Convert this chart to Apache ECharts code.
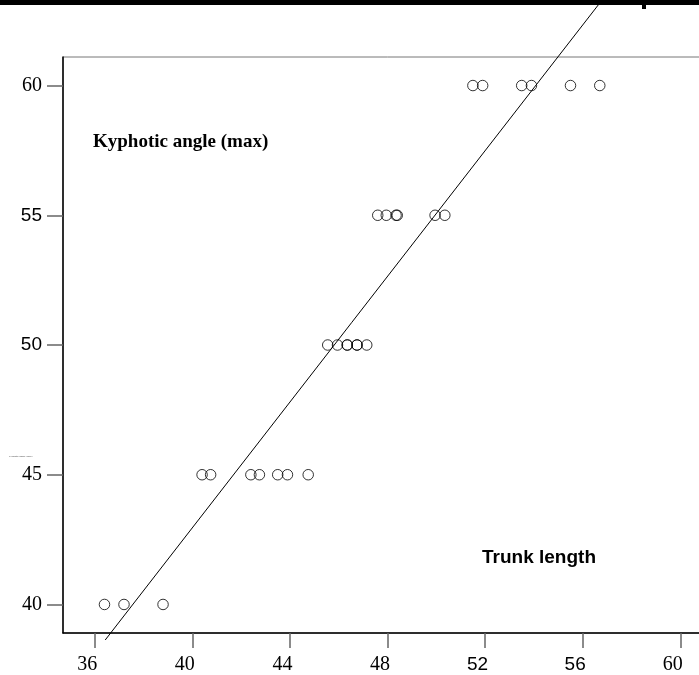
<!DOCTYPE html>
<html>
<head>
<meta charset="utf-8">
<script src="https://cdn.jsdelivr.net/npm/echarts@6/dist/echarts.min.js"></script>
<style>
  html, body { margin: 0; padding: 0; background: #fff; overflow: hidden; }
  /* wider than the window: the plot box runs past the right edge */
  #chart { width: 713px; height: 675px; }
</style>
</head>
<body>
<div id="chart"></div>
<script>
// data
const trunkLength = [
  36.4, 37.2, 38.8,
  40.4, 40.75, 42.4, 42.75, 43.5, 43.9, 44.75,
  45.55, 45.95, 46.35, 46.35, 46.75, 46.75, 47.15,
  47.6, 47.95, 48.35, 48.4, 49.95, 50.35,
  51.5, 51.9, 53.5, 53.9, 55.5, 56.7
]
const kyphoticAngle = [
  40, 40, 40,
  45, 45, 45, 45, 45, 45, 45,
  50, 50, 50, 50, 50, 50, 50,
  55, 55, 55, 55, 55, 55,
  60, 60, 60, 60, 60, 60
]
// fitted line, two end points
const fitX = [36.43, 56.65]
const fitY = [38.63, 63.12]

const xTicks = [36, 40, 44, 48, 52, 56, 60]
const yTicks = [40, 45, 50, 55, 60]

// labels that were printed in a sans face in the original
const sansX = [52, 56]
const sansY = [50, 55]

const chart = echarts.init(document.getElementById('chart'))

const serif = 'Liberation Serif'
const sans = 'Liberation Sans'

function labelFmt(list) {
  return function(v) {
    return list.indexOf(v) >= 0 ? '{s|' + v + '}' : '{r|' + v + '}'
  }
}
const labelRich = {
  r: { fontFamily: serif, fontSize: 20, color: '#000' },
  s: { fontFamily: sans, fontSize: 19, color: '#000' }
}

chart.setOption({
  animation: false,
  grid: {
    left: 63,
    top: 57,
    right: 1,
    bottom: 41,
    show: true,
    borderColor: '#777',
    borderWidth: 1
  },
  xAxis: {
    type: 'value',
    min: 34.7,
    max: 61.3,
    splitLine: { show: false },
    axisLine: { show: true, lineStyle: { color: '#000', width: 1.5 } },
    axisTick: {
      show: true,
      customValues: xTicks,
      length: 15,
      lineStyle: { color: '#666', width: 1.5 }
    },
    axisLabel: {
      customValues: xTicks,
      margin: 22,
      padding: [0, 15, 0, 0],
      formatter: labelFmt(sansX),
      rich: labelRich
    }
  },
  yAxis: {
    type: 'value',
    min: 38.9,
    max: 61.1,
    splitLine: { show: false },
    axisLine: { show: true, lineStyle: { color: '#000', width: 1.5 } },
    axisTick: {
      show: true,
      customValues: yTicks,
      length: 16,
      lineStyle: { color: '#666', width: 1.5 }
    },
    axisLabel: {
      customValues: yTicks,
      margin: 21,
      formatter: labelFmt(sansY),
      rich: labelRich
    }
  },
  series: [
    {
      type: 'scatter',
      data: trunkLength.map((x, i) => [x, kyphoticAngle[i]]),
      symbol: 'circle',
      symbolSize: 10.5,
      itemStyle: { color: 'rgba(0,0,0,0)', borderColor: '#000', borderWidth: 1 },
      z: 3
    },
    {
      type: 'line',
      data: fitX.map((x, i) => [x, fitY[i]]),
      showSymbol: false,
      clip: false,
      lineStyle: { color: '#000', width: 1 },
      z: 2
    }
  ],
  graphic: [
    {
      type: 'rect',
      shape: { x: 0, y: 0, width: 713, height: 5 },
      style: { fill: '#000' },
      z: 100
    },
    {
      type: 'rect',
      shape: { x: 642, y: 0, width: 4, height: 9 },
      style: { fill: '#000' },
      z: 100
    },
    {
      type: 'text',
      left: 93,
      top: 133,
      style: {
        text: 'Kyphotic angle (max)',
        font: 'bold 19px "Liberation Serif"',
        fill: '#000'
      }
    },
    {
      type: 'text',
      left: 482,
      top: 548,
      style: {
        text: 'Trunk length',
        font: 'bold 19px "Liberation Sans"',
        fill: '#000'
      }
    },
    {
      type: 'text',
      left: 9,
      top: 455,
      style: {
        text: 'Kyphotic angle (max)',
        font: '2.5px "Liberation Sans"',
        fill: '#444'
      }
    }
  ]
})
</script>
</body>
</html>
